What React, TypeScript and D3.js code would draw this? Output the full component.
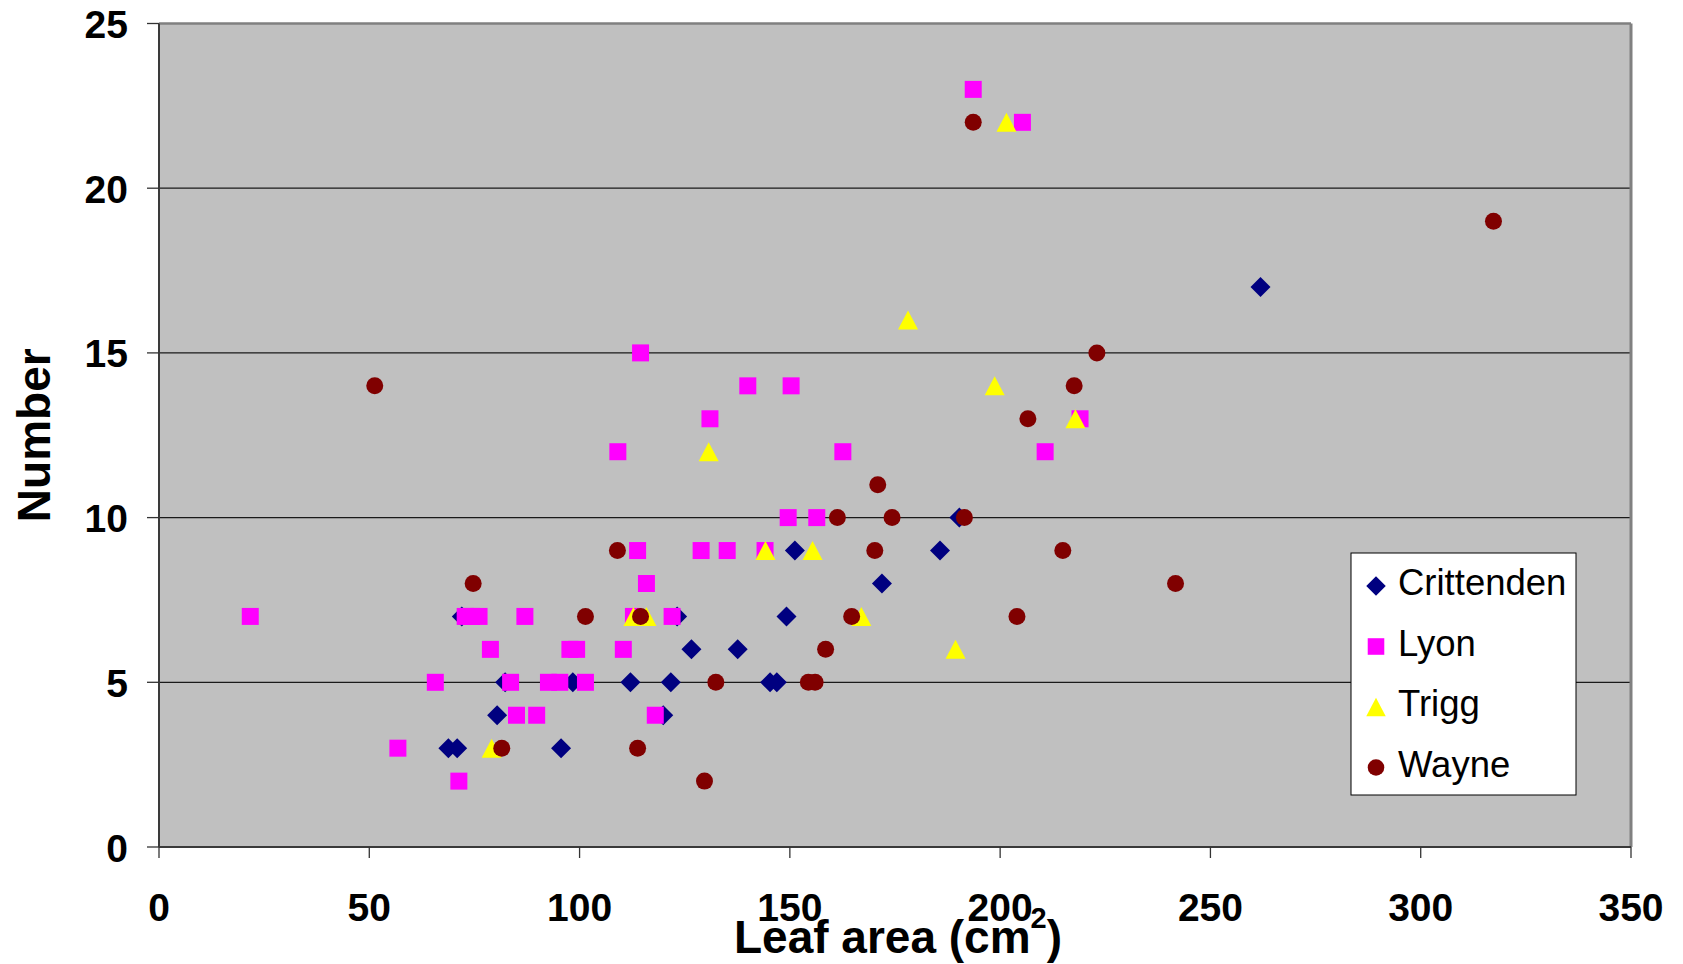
import React from 'react';
import * as d3 from 'd3';

const xTicks = [0, 50, 100, 150, 200, 250, 300, 350];
const yTicks = [0, 5, 10, 15, 20, 25];
const seriesNames = ['Crittenden', 'Lyon', 'Trigg', 'Wayne'];
const seriesColors = ['#000080', '#FF00FF', '#FFFF00', '#800000'];

const crittenden: [number, number][] = [
  [68.8, 3], [70.9, 3], [72, 7], [80.4, 4], [82.3, 5], [95.6, 3], [98.4, 5],
  [112.1, 5], [119.9, 4], [121.7, 5], [123.2, 7], [126.6, 6], [137.6, 6],
  [145.3, 5], [146.9, 5], [149.2, 7], [151.2, 9], [171.9, 8], [185.7, 9],
  [190.3, 10], [261.9, 17],
];
const lyon: [number, number][] = [
  [21.7, 7], [56.8, 3], [65.7, 5], [71.3, 2], [72.8, 7], [74.3, 7], [76.1, 7],
  [78.8, 6], [83.6, 5], [85, 4], [87, 7], [89.8, 4], [92.6, 5], [95.3, 5],
  [97.7, 6], [99.3, 6], [101.4, 5], [109.1, 12], [110.4, 6], [112.8, 7],
  [113.8, 9], [114.5, 15], [115.9, 8], [118, 4], [122, 7], [128.9, 9],
  [131, 13], [135.1, 9], [140, 14], [144.1, 9], [149.6, 10], [150.3, 14],
  [156.4, 10], [162.6, 12], [193.6, 23], [205.3, 22], [210.7, 12], [219, 13],
];
const trigg: [number, number][] = [
  [79.1, 3], [112.8, 7], [115.9, 7], [130.7, 12], [144.2, 9], [155.4, 9],
  [167, 7], [178.1, 16], [189.4, 6], [198.7, 14], [201.5, 22], [217.9, 13],
];
const wayne: [number, number][] = [
  [51.3, 14], [74.7, 8], [81.5, 3], [101.4, 7], [109, 9], [113.8, 3],
  [114.5, 7], [129.7, 2], [132.4, 5], [154.4, 5], [156, 5], [158.5, 6],
  [161.3, 10], [164.7, 7], [170.2, 9], [170.9, 11], [174.3, 10], [191.5, 10],
  [193.6, 22], [204, 7], [206.6, 13], [214.9, 9], [217.6, 14], [223, 15],
  [241.7, 8], [317.3, 19],
];
const seriesData = [crittenden, lyon, trigg, wayne];

const W = 1683;
const H = 964;
const plot = { left: 159, right: 1631, top: 23.5, bottom: 847 };
const FONT = '"Liberation Sans", Arial, Helvetica, sans-serif';

const diamondType = {
  draw(ctx: any, size: number) {
    const r = Math.sqrt(size / 2);
    ctx.moveTo(0, -r);
    ctx.lineTo(r, 0);
    ctx.lineTo(0, r);
    ctx.lineTo(-r, 0);
    ctx.closePath();
  },
};
const triangleType = {
  draw(ctx: any, size: number) {
    const w = Math.sqrt(size * 2);
    const h = w * 0.95;
    ctx.moveTo(0, -h / 2);
    ctx.lineTo(w / 2, h / 2);
    ctx.lineTo(-w / 2, h / 2);
    ctx.closePath();
  },
};
const symbolTypes: any[] = [diamondType, d3.symbolSquare, triangleType, d3.symbolCircle];
const symbolSizes = [200, 289, 200, 227];

export default function App() {
  const x = d3.scaleLinear().domain([0, 350]).range([plot.left, plot.right]);
  const y = d3.scaleLinear().domain([0, 25]).range([plot.bottom, plot.top]);
  const paths = symbolTypes.map((t, i) => d3.symbol().type(t).size(symbolSizes[i])() as string);
  const legendPaths = symbolTypes.map((t, i) => d3.symbol().type(t).size(symbolSizes[i] * 0.95)() as string);

  const legend = { x: 1351, y: 553, w: 225, h: 242 };

  return (
    <svg
      width={W}
      height={H}
      style={{ position: 'absolute', left: 0, top: 0, background: '#fff' }}
      fontFamily={FONT}
    >
      <rect x={plot.left} y={plot.top} width={plot.right - plot.left} height={plot.bottom - plot.top} fill="#C0C0C0" />
      {yTicks.filter((t) => t > 0 && t < 25).map((t) => (
        <line key={'g' + t} x1={plot.left} x2={plot.right} y1={y(t)} y2={y(t)} stroke="#1a1a1a" strokeWidth={1.2} />
      ))}
      {/* border */}
      <line x1={plot.left} x2={plot.right} y1={plot.top} y2={plot.top} stroke="#808080" strokeWidth={2.5} />
      <line x1={plot.right} x2={plot.right} y1={plot.top} y2={plot.bottom} stroke="#808080" strokeWidth={3} />
      {/* axes */}
      <line x1={plot.left} x2={plot.left} y1={plot.top} y2={plot.bottom} stroke="#3a3a3a" strokeWidth={2} />
      <line x1={plot.left} x2={plot.right} y1={plot.bottom} y2={plot.bottom} stroke="#3a3a3a" strokeWidth={2} />
      {yTicks.map((t) => (
        <g key={'yt' + t}>
          <line x1={plot.left - 12} x2={plot.left} y1={y(t)} y2={y(t)} stroke="#333" strokeWidth={1.3} />
          <text x={128} y={y(t) + 14.5} textAnchor="end" fontSize={39} fontWeight="bold" fill="#000">
            {t}
          </text>
        </g>
      ))}
      {xTicks.map((t) => (
        <g key={'xt' + t}>
          <line x1={x(t)} x2={x(t)} y1={plot.bottom} y2={plot.bottom + 11} stroke="#333" strokeWidth={1.3} />
          <text x={x(t)} y={921} textAnchor="middle" fontSize={39} fontWeight="bold" fill="#000">
            {t}
          </text>
        </g>
      ))}
      {/* markers */}
      {seriesData.map((data, si) => (
        <g key={'s' + si} fill={seriesColors[si]}>
          {data.map((d, i) => (
            <path key={i} d={paths[si]} transform={`translate(${x(d[0])},${y(d[1])})`} />
          ))}
        </g>
      ))}
      {/* axis titles */}
      <text
        transform={`translate(50,${(plot.top + plot.bottom) / 2}) rotate(-90)`}
        textAnchor="middle"
        fontSize={46}
        fontWeight="bold"
        fill="#000"
      >
        Number
      </text>
      <text x={898} y={953} textAnchor="middle" fontSize={46} fontWeight="bold" fill="#000">
        Leaf area (cm
        <tspan fontSize={29} dy={-25}>2</tspan>
        <tspan dy={25}>)</tspan>
      </text>
      {/* legend */}
      <rect x={legend.x} y={legend.y} width={legend.w} height={legend.h} fill="#fff" stroke="#000" strokeWidth={1} />
      {seriesNames.map((name, i) => (
        <g key={'l' + i}>
          <path d={legendPaths[i]} fill={seriesColors[i]} transform={`translate(1376,${586 + i * 60.5})`} />
          <text x={1398} y={595 + i * 60.5} fontSize={36.5} fill="#000">
            {name}
          </text>
        </g>
      ))}
    </svg>
  );
}
